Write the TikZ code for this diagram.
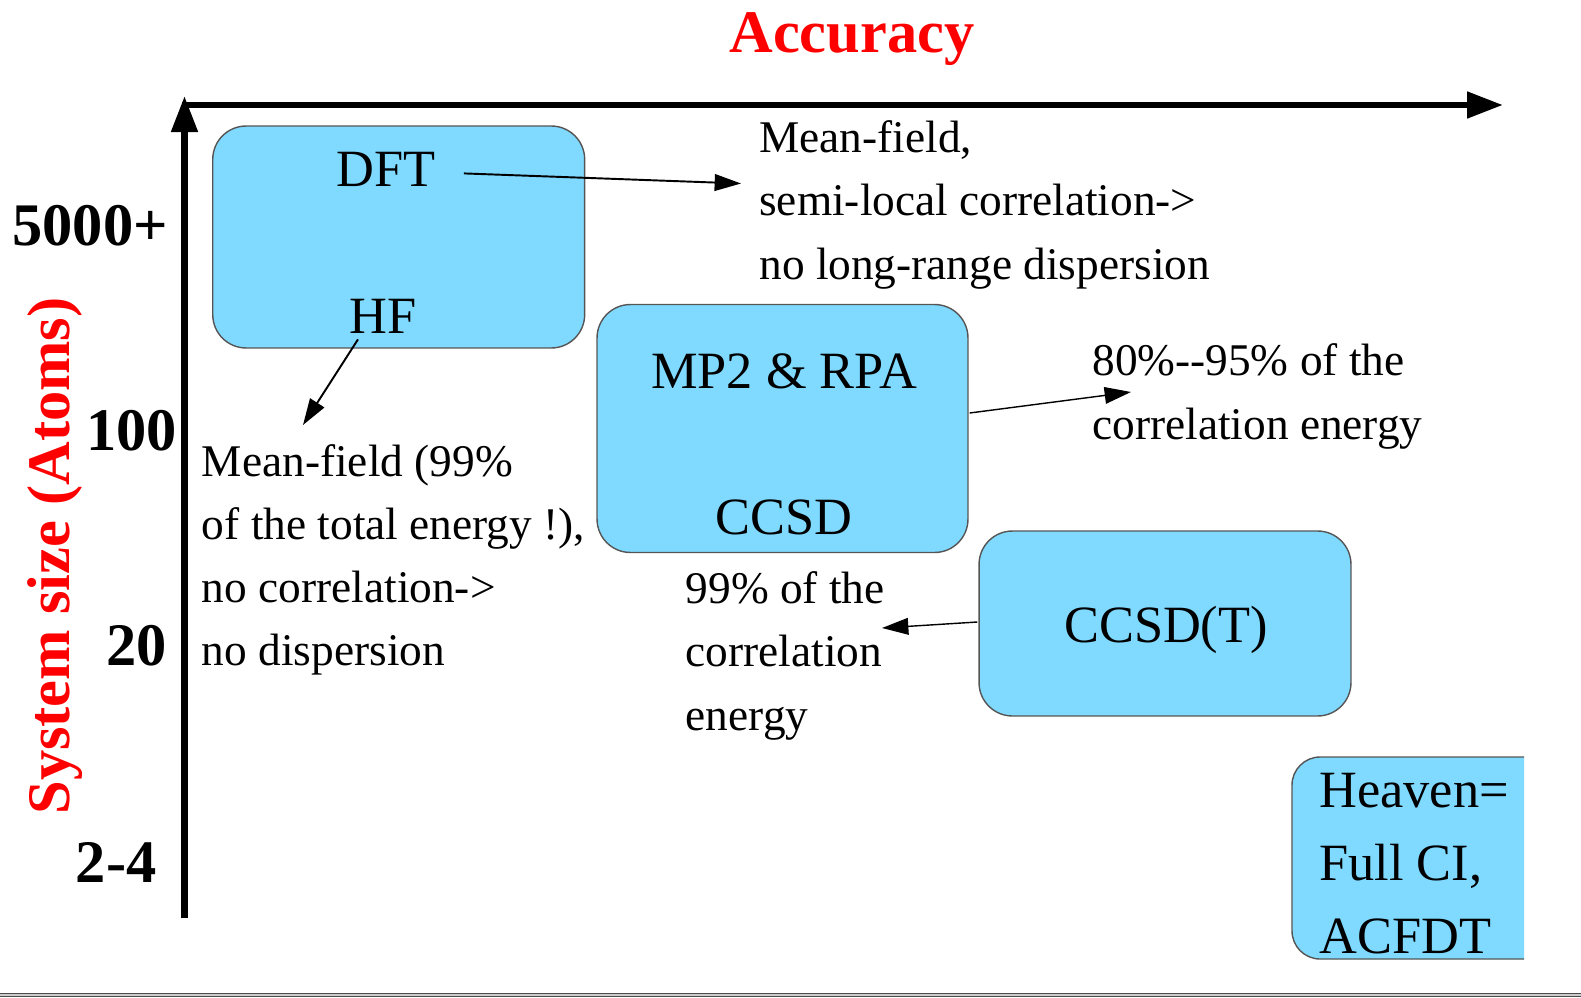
\documentclass[tikz,border=0pt]{standalone}
\usepackage{fontspec}
\setmainfont{Liberation Serif}
\usetikzlibrary{arrows.meta}

\definecolor{methodfill}{RGB}{128,218,255}
\definecolor{methodedge}{RGB}{85,85,85}

\tikzset{
  method/.style={draw=methodedge, fill=methodfill, line width=0.8pt, rounded corners=19pt},
  boxlabel/.style={inner sep=0pt, font=\fontsize{29.8}{41.5}\selectfont},
  note/.style={inner sep=0pt, align=left, anchor=base west, font=\fontsize{25.8}{35.9}\selectfont},
  axislabel/.style={inner sep=0pt, font=\fontsize{34.4}{40}\selectfont\bfseries},
  axis/.style={line width=3.7pt, -{Triangle[length=20.5pt,width=14.5pt]}},
  pointer/.style={line width=1.1pt, -{Triangle[length=15pt,width=9.5pt]}},
}

\begin{document}
\begin{tikzpicture}[x=0.02cm, y=-0.02cm]
\useasboundingbox (0,0) rectangle (1581,997);

% axes
\draw[axis] (184.5,918) -- (184.5,96);
\draw[axis] (182,105) -- (1503,105);
\node[axislabel, red, anchor=base] (accuracy) at (852,52.5) {Accuracy};
\node[axislabel, red, anchor=base, rotate=90] (size) at (69,556) {System size (Atoms)};
\node[axislabel, anchor=base west] (n5000) at (12,245) {5000+};
\node[axislabel, anchor=base west] (n100) at (86,450.7) {100};
\node[axislabel, anchor=base west] (n20) at (106,665.5) {20};
\node[axislabel, anchor=base west] (n2) at (75.6,882) {2-4};

% method boxes
\node[method, minimum width=7.44cm, minimum height=4.44cm] (dfthf) at (398.7,237) {};
\node[method, minimum width=7.42cm, minimum height=4.96cm] (mpccsd) at (782.5,428.5) {};
\node[method, minimum width=7.44cm, minimum height=3.7cm] (ccsdt) at (1165,623.5) {};
\filldraw[methodfill, draw=methodedge, line width=0.8pt] (1524,757) [rounded corners=16pt] -- (1292,757) -- (1292,959) -- (1524,959);

\node[boxlabel, anchor=base] (dft) at (386,186.5) {DFT};
\node[boxlabel, anchor=base] (hf) at (383,333) {HF};
\node[boxlabel, anchor=base] (mp) at (784,388) {MP2 \& RPA};
\node[boxlabel, anchor=base] (ccsd) at (784,534) {CCSD};
\node[boxlabel, anchor=base] (ccsdtl) at (1166,642) {CCSD(T)};
% base of a multi-line node = last line
\node[boxlabel, align=left, anchor=base west] (heaven) at (1319,953) {Heaven=\\Full CI,\\ACFDT};

% remarks
\node[note] (dftnote) at (759,279) {Mean-field,\\semi-local correlation->\\no long-range dispersion};
\node[note] (hfnote) at (201.6,665.5) {Mean-field (99\%\\of the total energy !),\\no correlation->\\no dispersion};
\node[note] (mpnote) at (1092,439) {80\%\mbox{-}\mbox{-}95\% of the\\correlation energy};
\node[note] (ccsdtnote) at (685.5,730) {99\% of the\\correlation\\energy};

\coordinate (dfttip) at (741,183.5);
\coordinate (hftip) at (303,425);
\coordinate (mptip) at (1131,392);
\coordinate (ccsdttip) at (882,628);
\draw[pointer] ([shift={(28,4)}]dft.east) -- (dfttip);
\draw[pointer] ([shift={(-25,6)}]hf.south) -- (hftip);
\draw[pointer, line width=0.8pt] ([shift={(1,-15.5)}]mpccsd.east) -- (mptip);
\draw[pointer, line width=0.8pt] ([shift={(-1,-1.5)}]ccsdt.west) -- (ccsdttip);

% rule along the bottom
\draw[line width=2.3pt, black!70] (0,995) -- (1581,995);
\draw[line width=0.9pt, black!20] (0,995) -- (1581,995);
\end{tikzpicture}
\end{document}
